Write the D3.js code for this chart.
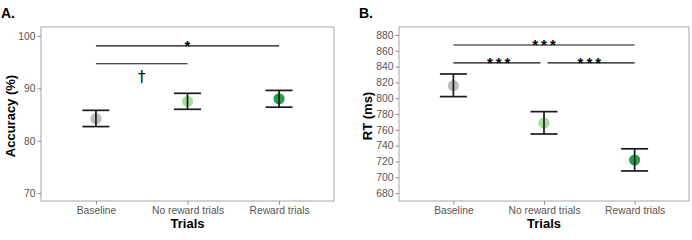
<!DOCTYPE html>
<html>
<head>
<meta charset="utf-8">
<script src="https://cdn.jsdelivr.net/npm/d3@7"></script>
<style>
  body { margin: 0; background: #fff; }
  svg { display: block; font-family: "Liberation Sans", Arial, sans-serif; }
</style>
</head>
<body>
<svg id="chart" width="692" height="240"></svg>
<script>
// categorías comunes
var trials = ["Baseline", "No reward trials", "Reward trials"];
var pointColors = ["#bdbdbd", "#a9dca2", "#2a9d4e"];

// panel A: precisión (%)
var accMean = [84.2, 87.5, 88.0];
var accLow  = [82.7, 86.0, 86.4];
var accHigh = [85.8, 89.05, 89.6];
var accTicks = [70, 80, 90, 100];

// panel B: tiempo de reacción (ms)
var rtMean = [815.8, 768.6, 721.8];
var rtLow  = [802, 754.7, 708];
var rtHigh = [830.6, 783, 736];
var rtTicks = [680, 700, 720, 740, 760, 780, 800, 820, 840, 860, 880];

// comparaciones significativas
var accSig = [
  { from: 0, to: 2, y: 98.1, label: "*", below: false },
  { from: 0, to: 1, y: 94.7, label: "\u2020", below: true, labelY: 92.3 }
];
var rtSig = [
  { from: 0, to: 2, y: 867.3, label: "***" },
  { from: 0, to: 1, y: 844.6, label: "***", trimEnd: 3.5 },
  { from: 1, to: 2, y: 844.6, label: "***", trimStart: 3.5 }
];

var svg = d3.select("#chart");

function drawPanel(opt) {
  var g = svg.append("g");
  var x = d3.scalePoint().domain(trials).range([opt.x0, opt.x1]).padding(0.6);
  var y = d3.scaleLinear().domain(opt.domain).range([opt.y1, opt.y0]);

  // marco del panel
  g.append("rect")
    .attr("x", opt.x0).attr("y", opt.y0)
    .attr("width", opt.x1 - opt.x0).attr("height", opt.y1 - opt.y0)
    .attr("fill", "none").attr("stroke", "#a6a6a6").attr("stroke-width", 1);

  // eje Y
  var yAxis = g.append("g")
    .attr("transform", "translate(" + opt.x0 + ",0)")
    .call(d3.axisLeft(y).tickValues(opt.ticks).tickSize(3.5).tickPadding(2));
  yAxis.select(".domain").remove();
  yAxis.selectAll("line").attr("stroke", "#8c8c8c");
  yAxis.selectAll("text").attr("fill", "#555").style("font-size", "10.3px")
    .style("font-family", "'Liberation Sans', Arial, sans-serif");

  // eje X
  var xAxis = g.append("g")
    .attr("transform", "translate(0," + opt.y1 + ")")
    .call(d3.axisBottom(x).tickSize(3.5).tickPadding(2));
  xAxis.select(".domain").remove();
  xAxis.selectAll("line").attr("stroke", "#8c8c8c");
  xAxis.selectAll("text").attr("fill", "#555").style("font-size", "10.3px")
    .style("font-family", "'Liberation Sans', Arial, sans-serif");

  // títulos
  g.append("text")
    .attr("x", (opt.x0 + opt.x1) / 2).attr("y", 228)
    .attr("text-anchor", "middle")
    .style("font-weight", "bold").style("font-size", "13px")
    .text("Trials");
  g.append("text")
    .attr("transform", "translate(" + opt.titleX + "," + ((opt.y0 + opt.y1) / 2 + 2) + ") rotate(-90)")
    .attr("text-anchor", "middle")
    .style("font-weight", "bold").style("font-size", "13px")
    .text(opt.yTitle);
  g.append("text")
    .attr("x", opt.tagX).attr("y", 18)
    .style("font-weight", "bold").style("font-size", "14px")
    .text(opt.tag);

  // puntos
  g.selectAll(".pt")
    .data(trials)
    .enter().append("circle")
    .attr("class", "pt")
    .attr("cx", function(d) { return x(d); })
    .attr("cy", function(d, i) { return y(opt.mean[i]); })
    .attr("r", 5.6)
    .attr("fill", function(d, i) { return pointColors[i]; });

  // barras de error
  var cap = 13.5;
  var eb = g.selectAll(".eb").data(trials).enter().append("g").attr("class", "eb")
    .attr("stroke", "#1a1a1a").attr("stroke-width", 1.7);
  eb.append("line")
    .attr("x1", function(d) { return x(d); }).attr("x2", function(d) { return x(d); })
    .attr("y1", function(d, i) { return y(opt.low[i]); })
    .attr("y2", function(d, i) { return y(opt.high[i]); });
  eb.append("line")
    .attr("x1", function(d) { return x(d) - cap; }).attr("x2", function(d) { return x(d) + cap; })
    .attr("y1", function(d, i) { return y(opt.high[i]); })
    .attr("y2", function(d, i) { return y(opt.high[i]); });
  eb.append("line")
    .attr("x1", function(d) { return x(d) - cap; }).attr("x2", function(d) { return x(d) + cap; })
    .attr("y1", function(d, i) { return y(opt.low[i]); })
    .attr("y2", function(d, i) { return y(opt.low[i]); });

  // significancia
  opt.sig.forEach(function(s) {
    var xa = x(trials[s.from]) + (s.trimStart || 0);
    var xb = x(trials[s.to]) - (s.trimEnd || 0);
    g.append("line")
      .attr("x1", xa).attr("x2", xb)
      .attr("y1", y(s.y)).attr("y2", y(s.y))
      .attr("stroke", "#111").attr("stroke-width", 1.1);
    var mid = (x(trials[s.from]) + x(trials[s.to])) / 2;
    if (s.below) {
      g.append("text")
        .attr("x", mid).attr("y", y(s.labelY) + 6)
        .attr("text-anchor", "middle")
        .style("font-size", "15px").style("font-family", "'DejaVu Sans', sans-serif")
        .text(s.label);
    } else {
      g.append("text")
        .attr("x", mid + (s.label.length > 1 ? 1.5 : 0)).attr("y", y(s.y) + 5)
        .attr("text-anchor", "middle")
        .style("font-size", "15px").style("font-weight", "bold")
        .style("letter-spacing", s.label.length > 1 ? "3px" : "0px")
        .text(s.label);
    }
  });
}

drawPanel({
  x0: 41, x1: 334, y0: 27, y1: 201,
  domain: [68.5, 101.7], ticks: accTicks,
  mean: accMean, low: accLow, high: accHigh,
  sig: accSig, yTitle: "Accuracy (%)", titleX: 14.5, tag: "A.", tagX: 1
});

drawPanel({
  x0: 399, x1: 689, y0: 27, y1: 201,
  domain: [670, 890], ticks: rtTicks,
  mean: rtMean, low: rtLow, high: rtHigh,
  sig: rtSig, yTitle: "RT (ms)", titleX: 372, tag: "B.", tagX: 359
});
</script>
</body>
</html>
